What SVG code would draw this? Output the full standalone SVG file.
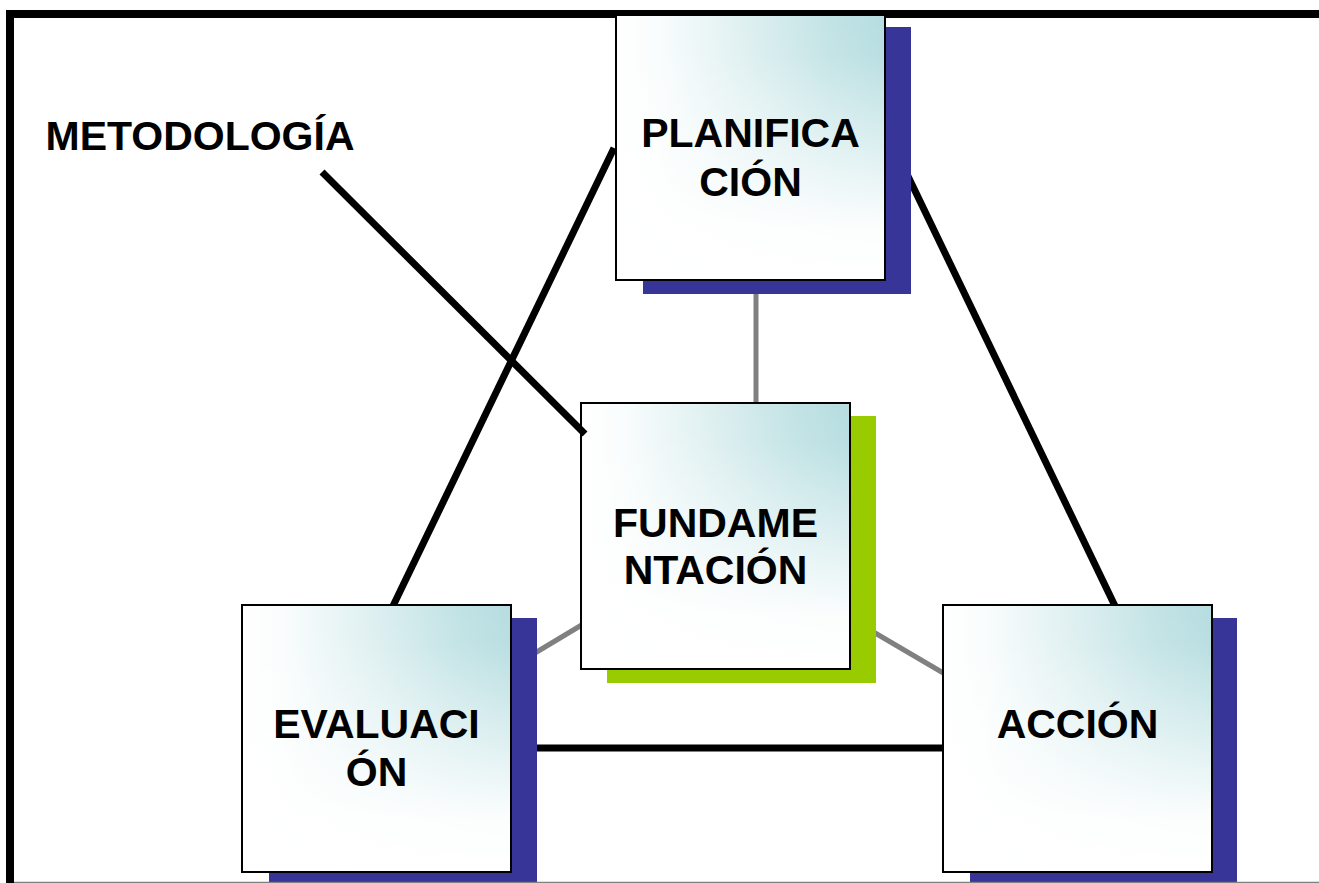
<svg xmlns="http://www.w3.org/2000/svg" width="1319" height="883" viewBox="0 0 1319 883">
  <defs>
    <linearGradient id="hgrad" x1="0" y1="0" x2="1" y2="0">
      <stop offset="0" stop-color="#FFFFFF"/>
      <stop offset="0.15" stop-color="#FAFDFD"/>
      <stop offset="0.5" stop-color="#DDEFF0"/>
      <stop offset="0.8" stop-color="#C2E3E5"/>
      <stop offset="1" stop-color="#B6DDE0"/>
    </linearGradient>
    <linearGradient id="vgrad" x1="0" y1="0" x2="0" y2="1">
      <stop offset="0" stop-color="#FFFFFF" stop-opacity="0"/>
      <stop offset="0.15" stop-color="#FFFFFF" stop-opacity="0.05"/>
      <stop offset="0.55" stop-color="#FFFFFF" stop-opacity="0.6"/>
      <stop offset="0.8" stop-color="#FFFFFF" stop-opacity="0.95"/>
      <stop offset="1" stop-color="#FFFFFF" stop-opacity="1"/>
    </linearGradient>
  </defs>
  <style>
    .fillh { fill: url(#hgrad); }
    .fillv { fill: url(#vgrad); }
    .edge { fill: none; stroke: #000000; stroke-width: 2; }
    .shadow-blue { fill: #373598; }
    .shadow-green { fill: #99CC00; }
    .label { font-family: "Liberation Sans", Arial, sans-serif; font-weight: bold; font-size: 41px; fill: #000000; text-anchor: middle; }
    .thick { stroke: #000000; stroke-width: 7; fill: none; }
    .thin { stroke: #808080; stroke-width: 5; fill: none; }
  </style>
  <rect x="0" y="0" width="1319" height="883" fill="#FFFFFF"/>

  <g id="frame">
    <line x1="6" y1="14" x2="1319" y2="14" stroke="#000000" stroke-width="8"/>
    <line x1="10" y1="10" x2="10" y2="883" stroke="#000000" stroke-width="8"/>
  </g>

  <g id="connectors">
    <line class="thick" x1="614" y1="148" x2="393" y2="606"/>
    <line class="thick" x1="905" y1="170" x2="1115" y2="606"/>
    <line class="thick" x1="520" y1="748" x2="945" y2="748"/>
    <line class="thin" x1="756" y1="285" x2="756" y2="405"/>
    <line class="thin" x1="590" y1="620" x2="530" y2="656"/>
    <line class="thin" x1="870" y1="630" x2="945" y2="674"/>
  </g>

  <g id="planificacion">
    <rect class="shadow-blue" x="643" y="27" width="268" height="267"/>
    <rect class="fillh" x="616" y="15" width="269" height="265"/>
    <rect class="fillv" x="616" y="15" width="269" height="265"/>
    <rect class="edge" x="616" y="15" width="269" height="265"/>
    <text class="label" x="750.5" y="147">PLANIFICA</text>
    <text class="label" x="750.5" y="196">CIÓN</text>
  </g>

  <g id="fundamentacion">
    <rect class="shadow-green" x="607" y="416" width="269" height="267"/>
    <rect class="fillh" x="581" y="403" width="269" height="266"/>
    <rect class="fillv" x="581" y="403" width="269" height="266"/>
    <rect class="edge" x="581" y="403" width="269" height="266"/>
    <text class="label" x="715.5" y="537">FUNDAME</text>
    <text class="label" x="715.5" y="584">NTACIÓN</text>
  </g>

  <g id="evaluacion">
    <rect class="shadow-blue" x="269" y="618" width="268" height="264"/>
    <rect class="fillh" x="242" y="605" width="269" height="267"/>
    <rect class="fillv" x="242" y="605" width="269" height="267"/>
    <rect class="edge" x="242" y="605" width="269" height="267"/>
    <text class="label" x="376.5" y="738">EVALUACI</text>
    <text class="label" x="376.5" y="786">ÓN</text>
  </g>

  <g id="accion">
    <rect class="shadow-blue" x="970" y="618" width="267" height="264"/>
    <rect class="fillh" x="943" y="605" width="269" height="267"/>
    <rect class="fillv" x="943" y="605" width="269" height="267"/>
    <rect class="edge" x="943" y="605" width="269" height="267"/>
    <text class="label" x="1077.5" y="738">ACCIÓN</text>
  </g>

  <g id="metodologia">
    <text class="label" x="200" y="150">METODOLOGÍA</text>
    <line class="thick" x1="322" y1="172" x2="585" y2="434"/>
  </g>

  <line x1="14" y1="882.5" x2="1319" y2="882.5" stroke="#808080" stroke-width="1.5"/>
</svg>
